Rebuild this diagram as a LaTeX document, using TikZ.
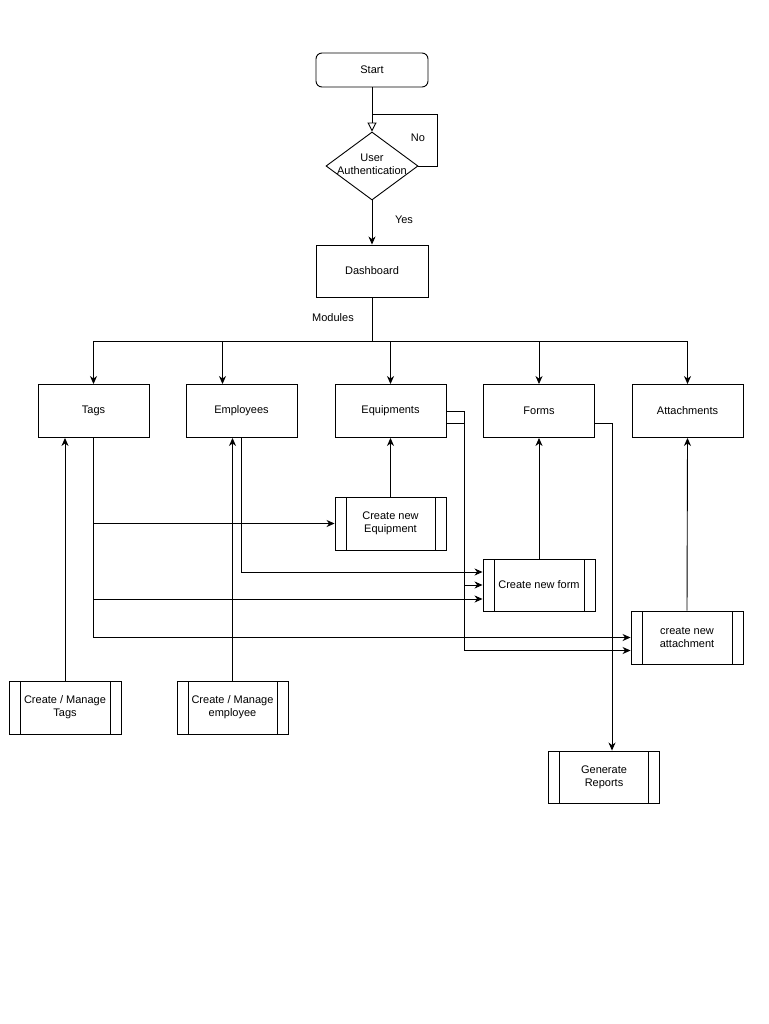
\documentclass[tikz,border=0pt]{standalone}
\usepackage{fontspec}
\setmainfont{Liberation Sans}
\usetikzlibrary{arrows.meta,shapes.geometric}
\begin{document}
\begin{tikzpicture}[
			x=1pt, y=-1pt,
			line width=0.9pt,
			>={Stealth[length=8pt,width=7pt,inset=2.5pt]},
			every node/.style={font=\fontsize{11}{13}\selectfont, align=center},
			modbox/.style={rectangle, draw, inner sep=0pt, minimum width=111pt, minimum height=53pt},
			procbox/.style={modbox, path picture={
						\draw ([xshift=11pt]path picture bounding box.north west) -- ([xshift=11pt]path picture bounding box.south west)
						([xshift=-11pt]path picture bounding box.north east) -- ([xshift=-11pt]path picture bounding box.south east);}}
		]
		\useasboundingbox (0,0) rectangle (768,1024);

		\node[rectangle, rounded corners=6pt, draw, minimum width=112pt, minimum height=34pt] (start) at (372,70) {Start};
		\node[diamond, draw, inner sep=0pt, minimum width=92pt, minimum height=68pt,
			label={[align=center, yshift=2pt]center:User\\Authentication}] (auth) at (372,166) {};
		\node[modbox, minimum width=112pt, minimum height=52pt] (dash) at (372,271) {Dashboard};
		\node (no) at (418,138) {No};
		\node (yes) at (404,220) {Yes};
		\node (modules) at (333,318) {Modules};

		\node[modbox] (tags) at (93.5,411) {Tags};
		\node[modbox] (emp) at (241.5,411) {Employees};
		\node[modbox] (equip) at (390.5,411) {Equipments};
		\node[modbox] (forms) at (539,411) {Forms};
		\node[modbox] (attach) at (687.5,411) {Attachments};

		\node[procbox] (neweq) at (390.5,523.5) {Create new\\Equipment};
		\node[procbox, minimum width=112pt, minimum height=52pt] (newform) at (539,585) {Create new form};
		\node[procbox, minimum width=112pt] (newatt) at (687,637.5) {create new\\attachment};
		\node[procbox, minimum height=52pt] (reports) at (604,777) {Generate\\Reports};
		\node[procbox, minimum width=112pt] (mtags) at (65,707.5) {Create / Manage\\Tags};
		\node[procbox] (memp) at (232.5,707.5) {Create / Manage\\employee};

		\draw[-{Triangle[open,length=9pt,width=9pt]}] (start.south) -- (auth.north);
		\draw (auth.east) -- ++(19,0) |- ([yshift=-27pt]start.south);
		\draw[->] (auth.south) -- (dash.north);

		\draw (dash.south) -- ++(0,44) coordinate (bus);
		\draw[->] (bus) -| (tags.north);
		\draw[->] (bus) -| ([xshift=-19pt]emp.north);
		\draw[->] (bus) -| (equip.north);
		\draw[->] (bus) -| (forms.north);
		\draw[->] (bus) -| (attach.north);

		\draw[->] (mtags.north) -- (mtags.north |- tags.south);
		\draw[->] (memp.north) -- (memp.north |- emp.south);
		\draw[->] (neweq.north) -- (equip.south);
		\draw[->] (newform.north) -- (forms.south);
		\draw[->] (newatt.north) -- (attach.south);

		\draw[->] (tags.south) |- (neweq.west);
		\draw[->] (tags.south) |- ([yshift=-14pt]newform.west);
		\draw[->] (tags.south) |- (newatt.west);
		\draw[->] (emp.south) |- ([yshift=13pt]newform.west);
		\draw[->] (equip.east) -- ++(18,0) |- (newform.west);
		\draw[->] ([yshift=-12pt]equip.east) -- ++(18,0) |- ([yshift=-13pt]newatt.west);
		\draw[->] ([yshift=-12pt]forms.east) -| ([xshift=8pt]reports.north);
	\end{tikzpicture}
\end{document}
